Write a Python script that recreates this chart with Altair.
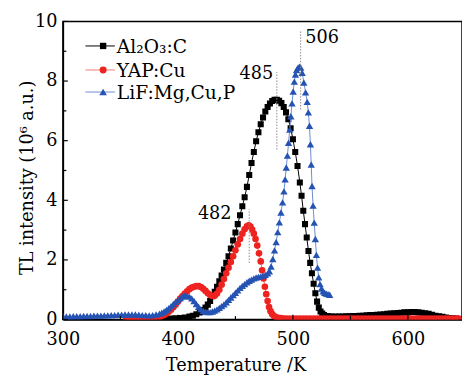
import altair as alt
import pandas as pd

# ---------------- data ----------------
al_T = [370, 374, 378, 382, 386, 390, 394, 398, 402, 406, 410, 413, 416, 419, 422, 424, 426, 428, 430, 432,
        434, 436, 438, 440, 442, 444, 446, 448, 450, 452, 454, 456, 458, 460, 462, 464, 466, 468, 470, 472,
        474, 476, 478, 480, 482, 484, 486, 488, 490, 492, 494, 496, 498, 500, 502, 504, 506, 507.5, 509, 510.5,
        512, 513.5, 515, 516.5, 518, 519.5, 521, 522.5, 524, 525.5, 527, 529, 531, 534, 537, 540,
        543, 546, 549, 552, 555, 558, 561, 564, 567, 570, 573, 576, 579, 582, 585, 588, 591, 594, 597, 600,
        603, 606, 609, 612, 615, 618, 621, 624, 627, 630, 633, 636, 639, 642, 645]
al_v = [0.0, 0.0, 0.005, 0.01, 0.015, 0.02, 0.03, 0.04, 0.05, 0.07, 0.1, 0.13, 0.18, 0.24, 0.32, 0.4, 0.5, 0.62, 0.78, 0.93,
        1.1, 1.28, 1.48, 1.68, 1.9, 2.12, 2.38, 2.65, 2.92, 3.2, 3.5, 3.8, 4.1, 4.45, 4.85, 5.25, 5.62, 5.98, 6.28, 6.55,
        6.78, 6.98, 7.13, 7.25, 7.33, 7.37, 7.37, 7.34, 7.26, 7.13, 6.95, 6.72, 6.42, 6.05, 5.62, 5.15, 4.6, 4.15, 3.65, 3.2,
        2.75, 2.3, 1.9, 1.55, 1.2, 0.88, 0.6, 0.4, 0.27, 0.2, 0.15, 0.12, 0.11, 0.1, 0.1, 0.1,
        0.1, 0.11, 0.11, 0.12, 0.12, 0.13, 0.13, 0.14, 0.15, 0.15, 0.16, 0.17, 0.18, 0.19, 0.2, 0.21, 0.22, 0.23, 0.24, 0.24,
        0.25, 0.25, 0.24, 0.23, 0.21, 0.19, 0.16, 0.13, 0.11, 0.09, 0.07, 0.05, 0.04, 0.03, 0.02]

yap_T = [355, 358, 361, 364, 367, 370, 373, 376, 379, 382, 385, 388, 390, 392, 394, 396, 398, 400, 402, 404,
         406, 408, 410, 412, 414, 416, 418, 420, 422, 424, 426, 428, 430, 432, 434, 436, 438, 440, 442, 444,
         446, 448, 450, 452, 454, 456, 458, 460, 461.5, 463, 464.5, 466, 467.5, 469, 470.5, 472, 473.2, 474.4, 475.6, 476.8,
         478, 479.2, 480.5, 482, 483.5, 485, 487, 489, 491, 494, 497, 500, 503, 506, 509, 512, 515, 518, 521, 524,
         527, 530, 533, 536, 539, 542, 545, 548, 551, 554, 557, 560, 563, 566, 569, 572, 575, 578, 581, 584,
         587, 590, 593, 596, 599, 602, 605, 608, 611, 614, 617, 620, 623, 626, 629, 632, 635, 638, 641, 644]
yap_v = [0.03, 0.03, 0.03, 0.03, 0.03, 0.03, 0.03, 0.04, 0.05, 0.07, 0.1, 0.15, 0.2, 0.26, 0.33, 0.41, 0.5, 0.6, 0.7, 0.79,
         0.87, 0.95, 1.02, 1.07, 1.1, 1.12, 1.12, 1.09, 1.03, 0.96, 0.88, 0.82, 0.79, 0.8, 0.87, 1.0, 1.17, 1.36, 1.55, 1.74,
         1.93, 2.12, 2.32, 2.52, 2.7, 2.88, 3.03, 3.13, 3.16, 3.12, 3.02, 2.88, 2.7, 2.48, 2.22, 1.95, 1.65, 1.38, 1.1, 0.85,
         0.62, 0.42, 0.28, 0.18, 0.12, 0.08, 0.06, 0.05, 0.04, 0.03, 0.03, 0.03, 0.03, 0.03, 0.03, 0.03, 0.03, 0.03, 0.03, 0.03,
         0.03, 0.03, 0.03, 0.03, 0.03, 0.03, 0.03, 0.03, 0.03, 0.03, 0.03, 0.03, 0.03, 0.03, 0.03, 0.03, 0.03, 0.03, 0.03, 0.03,
         0.03, 0.03, 0.03, 0.03, 0.03, 0.03, 0.03, 0.03, 0.03, 0.03, 0.03, 0.03, 0.03, 0.03, 0.03, 0.03, 0.03, 0.03, 0.03, 0.03]

lif_T = [300, 303, 306, 309, 312, 315, 318, 321, 324, 327, 330, 333, 336, 339, 342, 345, 348, 351, 354, 357,
         360, 363, 366, 369, 372, 375, 378, 381, 384, 386, 388, 390, 392, 394, 396, 398, 400, 402, 404, 406,
         408, 410, 412, 414, 416, 418, 420, 422, 424, 426, 428, 430, 432, 434, 436, 438, 440, 442, 444, 446,
         448, 450, 452, 454, 456, 458, 460, 462, 464, 466, 468, 470, 472, 474, 476, 478, 479.5, 481, 482.5, 484,
         485.4, 486.8, 488.2, 489.6, 491, 492.2, 493.2, 494.2, 495.2, 496.2, 497.2, 498.2, 499.2, 500.2, 501.2, 502.2, 503.2, 504.4, 505.6, 506.8,
         508, 509.5, 511, 512.4, 513.4, 514.4, 515.2, 515.9, 516.6, 517.5, 518.5, 519.5, 520.4, 521.4, 522.4, 523.6, 524.8, 526.2, 527.6, 529,
         530.5, 532]
lif_v = [0.1, 0.1, 0.1, 0.11, 0.11, 0.11, 0.12, 0.12, 0.12, 0.13, 0.13, 0.13, 0.14, 0.14, 0.15, 0.15, 0.16, 0.16, 0.17, 0.17,
         0.17, 0.17, 0.16, 0.15, 0.15, 0.14, 0.15, 0.17, 0.2, 0.23, 0.27, 0.32, 0.38, 0.45, 0.52, 0.59, 0.66, 0.72, 0.77, 0.8,
         0.8, 0.77, 0.71, 0.62, 0.52, 0.43, 0.35, 0.29, 0.26, 0.25, 0.25, 0.27, 0.3, 0.34, 0.39, 0.45, 0.51, 0.58, 0.66, 0.74,
         0.82, 0.9, 0.98, 1.06, 1.13, 1.19, 1.25, 1.3, 1.34, 1.38, 1.41, 1.43, 1.45, 1.47, 1.5, 1.55, 1.62, 1.78, 2.03, 2.32,
         2.6, 2.93, 3.26, 3.59, 3.93, 4.3, 4.7, 5.1, 5.5, 5.93, 6.37, 6.82, 7.25, 7.65, 7.98, 8.22, 8.37, 8.45, 8.48, 8.45,
         8.28, 7.95, 7.62, 7.3, 6.95, 6.5, 5.88, 5.2, 4.48, 3.82, 3.25, 2.7, 2.17, 1.74, 1.42, 1.19, 1.04, 0.95, 0.9, 0.87,
         0.85, 0.83]

series_names = ["Al\u2082O\u2083:C", "YAP:Cu", "LiF:Mg,Cu,P"]

peak_T = [462, 486, 506.7]
peak_lo = [1.9, 5.7, 7.05]
peak_hi = [3.7, 8.3, 9.7]
peak_label = ["482", "485", "506"]
label_T = [432, 468.2, 525.3]
label_v = [3.55, 8.22, 9.43]

x_ticks = [300, 400, 500, 600]
x_minor = [350, 450, 550]
y_ticks = [0, 2, 4, 6, 8, 10]
y_minor = [1, 3, 5, 7, 9]

# ---------------- styling ----------------
FONT = "DejaVu Serif"
W, H = 407, 304
marker_colors = ["#000000", "#ee2320", "#2553b3"]
line_colors = ["#000000", "#f07a70", "#6d8ad2"]
shapes = ["square", "circle", "triangle-up"]
sizes = [38, 46, 56]

xs = alt.Scale(domain=[300, 647], nice=False, zero=False)
ys = alt.Scale(domain=[0, 10], nice=False, zero=False)
x_axis = alt.Axis(values=x_ticks, title="Temperature /K", labelPadding=11, titleX=176, titleY=52,
                  titleBaseline="alphabetic", format="d", labelFlush=False)
y_axis = alt.Axis(values=y_ticks, title="TL intensity (10\u2076 a.u.)", labelPadding=6, titleX=-31, titleY=159,
                  titleBaseline="alphabetic", titleAngle=270, format="d", labelFlush=False)
X = alt.X("T:Q", scale=xs, axis=x_axis)
Y = alt.Y("v:Q", scale=ys, axis=y_axis)

layers = []
for T, v, mc, lc, shp, sz in zip([al_T, yap_T, lif_T], [al_v, yap_v, lif_v], marker_colors, line_colors, shapes, sizes):
    df = pd.DataFrame({"T": T, "v": v})
    base = alt.Chart(df)
    layers.append(base.mark_line(color=lc, strokeWidth=1, clip=True).encode(x=X, y=Y))
    layers.append(base.mark_point(shape=shp, filled=True, color=mc, size=sz, opacity=1, clip=True).encode(x=X, y=Y))

peaks = pd.DataFrame({"T": peak_T, "v": peak_lo, "v2": peak_hi})
layers.append(alt.Chart(peaks).mark_rule(color="#8a8a8a", strokeWidth=1, strokeDash=[1.5, 1.5]).encode(
    x=X, y=Y, y2="v2:Q"))
labels = pd.DataFrame({"T": label_T, "v": label_v, "label": peak_label})
layers.append(alt.Chart(labels).mark_text(font=FONT, fontSize=18, color="black", align="center",
                                          baseline="middle").encode(x=X, y=Y, text="label:N"))

# inner ticks
ymaj = pd.DataFrame({"v": y_ticks})
ymin = pd.DataFrame({"v": y_minor})
xmaj = pd.DataFrame({"T": x_ticks})
xmin = pd.DataFrame({"T": x_minor})
layers.append(alt.Chart(ymaj).mark_rule(color="black", strokeWidth=1.2).encode(y=Y, x=alt.value(0), x2=alt.value(5)))
layers.append(alt.Chart(ymin).mark_rule(color="black", strokeWidth=1.2).encode(y=Y, x=alt.value(0), x2=alt.value(3.5)))
layers.append(alt.Chart(xmaj).mark_rule(color="black", strokeWidth=1.2).encode(x=X, y=alt.value(H), y2=alt.value(H - 5)))
layers.append(alt.Chart(xmin).mark_rule(color="black", strokeWidth=1.2).encode(x=X, y=alt.value(H), y2=alt.value(H - 3.5)))

# legend
leg_rows = [25, 49.5, 72]
for name, mc, lc, shp, sz, ry in zip(series_names, marker_colors, line_colors, shapes, sizes, leg_rows):
    d = pd.DataFrame({"label": [name]})
    c = alt.Chart(d)
    layers.append(c.mark_rule(color=lc, strokeWidth=1).encode(x=alt.value(23), x2=alt.value(53), y=alt.value(ry)))
    layers.append(c.mark_point(shape=shp, filled=True, color=mc, size=sz + 4, opacity=1).encode(
        x=alt.value(41), y=alt.value(ry)))
    layers.append(c.mark_text(font=FONT, fontSize=19, color="black", align="left", baseline="middle").encode(
        x=alt.value(55), y=alt.value(ry + 1), text="label:N"))

chart = alt.layer(*layers).properties(
    width=W, height=H,
    autosize=alt.AutoSizeParams(type="none"),
    padding={"left": 56, "top": 10, "right": 0, "bottom": 60},
).configure_axis(
    labelFont=FONT, labelFontSize=18, titleFont=FONT, titleFontSize=18, titleFontWeight="normal",
    labelColor="black", titleColor="black", domainColor="black", domainWidth=1.5, ticks=False, grid=False,
).configure_view(stroke="black", strokeWidth=1.5)

chart.save("out.html", embed_options={"renderer": "svg", "actions": False})
